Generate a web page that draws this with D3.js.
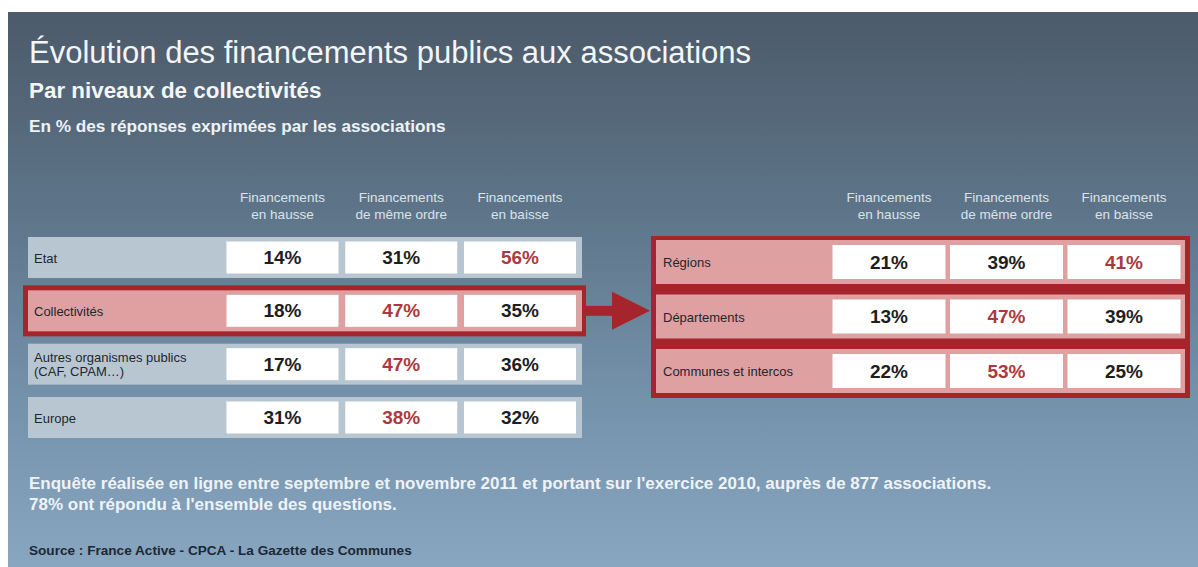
<!DOCTYPE html>
<html lang="fr">
<head>
<meta charset="utf-8">
<title>Évolution des financements publics aux associations</title>
<script src="https://cdn.jsdelivr.net/npm/d3@7"></script>
<style>
  html, body { margin: 0; padding: 0; background: #ffffff; }
  svg { display: block; font-family: "Liberation Sans", Arial, Helvetica, sans-serif; }
</style>
</head>
<body>
<svg id="chart" width="1198" height="567"></svg>
<script>
// Column headers shared by both tables
const columns = ["Financements\nen hausse", "Financements\nde même ordre", "Financements\nen baisse"];

// Left table: funders
const leftCategories = ["Etat", "Collectivités", "Autres organismes publics\n(CAF, CPAM…)", "Europe"];
const leftHausse = [14, 18, 17, 31];
const leftMeme   = [31, 47, 47, 38];
const leftBaisse = [56, 35, 36, 32];
const leftHighlight = "Collectivités";

// Right table: breakdown of local authorities
const rightCategories = ["Régions", "Départements", "Communes et intercos"];
const rightHausse = [21, 13, 22];
const rightMeme   = [39, 47, 53];
const rightBaisse = [41, 39, 25];

const titleText = "Évolution des financements publics aux associations";
const subtitleText = "Par niveaux de collectivités";
const unitText = "En % des réponses exprimées par les associations";
const noteLines = [
  "Enquête réalisée en ligne entre septembre et novembre 2011 et portant sur l'exercice 2010, auprès de 877 associations.",
  "78% ont répondu à l'ensemble des questions."
];
const sourceText = "Source : France Active - CPCA - La Gazette des Communes";

const W = 1198, H = 567;
const RED = "#a6242b", PINK = "#dea0a1", BAND = "#b8c6d2";
const VAL_RED = "#aa3a3f", VAL_DARK = "#1e1e1e";

const svg = d3.select("#chart");
const defs = svg.append("defs");
const grad = defs.append("linearGradient").attr("id", "bg").attr("x1", 0).attr("y1", 0).attr("x2", 0).attr("y2", 1);
grad.append("stop").attr("offset", "0%").attr("stop-color", "#4c5a6a");
grad.append("stop").attr("offset", "35%").attr("stop-color", "#5d7488");
grad.append("stop").attr("offset", "70%").attr("stop-color", "#7592ab");
grad.append("stop").attr("offset", "100%").attr("stop-color", "#88a6c0");

// Background panel
svg.append("rect").attr("x", 8).attr("y", 12).attr("width", W - 8).attr("height", H - 12).attr("fill", "url(#bg)");

// Titles
svg.append("text").attr("x", 29).attr("y", 63).attr("fill", "#f3f5f7")
  .attr("font-size", 31).text(titleText);
svg.append("text").attr("x", 29).attr("y", 98).attr("fill", "#f3f5f7")
  .attr("font-size", 22.4).attr("font-weight", "bold").text(subtitleText);
svg.append("text").attr("x", 29).attr("y", 132).attr("fill", "#eef2f5")
  .attr("font-size", 17.2).attr("font-weight", "bold").text(unitText);

function multiline(sel, text, lineH) {
  const lines = text.split("\n");
  const off = -(lines.length - 1) * lineH / 2;
  lines.forEach((l, i) => {
    sel.append("tspan").attr("x", sel.attr("x")).attr("dy", i === 0 ? off : lineH).text(l);
  });
}

// Draws one table (rows of three value cells)
function drawTable(g, cfg) {
  const { categories, series, rowScale, colScale, cellW, cellH, bandH, bandX0, bandX1, labelX, bandFill } = cfg;

  // column headers
  g.selectAll("text.head").data(columns).join("text")
    .attr("class", "head")
    .attr("x", d => colScale(d))
    .attr("y", cfg.headY)
    .attr("text-anchor", "middle")
    .attr("fill", "#dbe3ea")
    .attr("font-size", 13.5)
    .each(function (d) { multiline(d3.select(this), d, 17); });

  const rows = g.selectAll("g.row").data(categories).join("g").attr("class", "row")
    .attr("transform", d => `translate(0,${rowScale(d)})`);

  rows.append("rect")
    .attr("x", bandX0).attr("y", -bandH / 2)
    .attr("width", bandX1 - bandX0).attr("height", bandH)
    .attr("fill", d => bandFill(d));

  rows.append("text")
    .attr("x", labelX).attr("y", 0)
    .attr("dominant-baseline", "central")
    .attr("fill", "#1f2630")
    .attr("font-size", 13)
    .each(function (d) { multiline(d3.select(this), d, 14); });

  rows.each(function (cat, i) {
    const vals = series.map(s => s[i]);
    const maxV = d3.max(vals);
    const cells = d3.select(this).selectAll("g.cell").data(columns.map((c, j) => ({ col: c, v: vals[j] })))
      .join("g").attr("class", "cell")
      .attr("transform", d => `translate(${colScale(d.col)},0)`);
    cells.append("rect")
      .attr("x", -cellW / 2).attr("y", -cellH / 2)
      .attr("width", cellW).attr("height", cellH)
      .attr("fill", "#ffffff");
    cells.append("text")
      .attr("text-anchor", "middle")
      .attr("dominant-baseline", "central")
      .attr("font-size", 19).attr("font-weight", "bold")
      .attr("fill", d => d.v === maxV ? VAL_RED : VAL_DARK)
      .text(d => d.v + "%");
  });
}

// ---- Left table
const leftRows = d3.scalePoint().domain(leftCategories).range([257.5, 417.5]);
const leftCols = d3.scalePoint().domain(columns).range([282.5, 520]);
const gLeft = svg.append("g");

// highlight frame behind the selected row
const hy = leftRows(leftHighlight);
gLeft.append("rect").attr("x", 23).attr("y", hy - 25.5).attr("width", 563).attr("height", 51).attr("fill", RED);

drawTable(gLeft, {
  categories: leftCategories,
  series: [leftHausse, leftMeme, leftBaisse],
  rowScale: leftRows, colScale: leftCols,
  cellW: 112, cellH: 32, bandH: 41,
  bandX0: 28, bandX1: 582, labelX: 34, headY: 210,
  bandFill: d => d === leftHighlight ? PINK : BAND
});

// ---- Arrow linking the highlighted row to the breakdown
const arrowG = svg.append("g").attr("fill", RED);
arrowG.append("rect").attr("x", 585).attr("y", hy - 5).attr("width", 30).attr("height", 10);
arrowG.append("path").attr("d", d3.line()([[612, hy - 19], [650, hy], [612, hy + 19]]) + "Z");

// ---- Right table
const rightRows = d3.scalePoint().domain(rightCategories).range([262, 371]);
const rightCols = d3.scalePoint().domain(columns).range([889, 1124]);
const gRight = svg.append("g");
gRight.append("rect").attr("x", 651).attr("y", 236).attr("width", 539).attr("height", 162).attr("fill", RED);

drawTable(gRight, {
  categories: rightCategories,
  series: [rightHausse, rightMeme, rightBaisse],
  rowScale: rightRows, colScale: rightCols,
  cellW: 113, cellH: 34, bandH: 44,
  bandX0: 656, bandX1: 1185, labelX: 663, headY: 210,
  bandFill: () => PINK
});

// ---- Notes and source
const notes = svg.append("text").attr("fill", "#eef3f7").attr("font-size", 17).attr("font-weight", "bold");
noteLines.forEach((l, i) => {
  notes.append("tspan").attr("x", 29).attr("y", 489 + i * 21).text(l);
});
svg.append("text").attr("x", 29).attr("y", 555).attr("fill", "#1c2835")
  .attr("font-size", 13.6).attr("font-weight", "bold").text(sourceText);
</script>
</body>
</html>
